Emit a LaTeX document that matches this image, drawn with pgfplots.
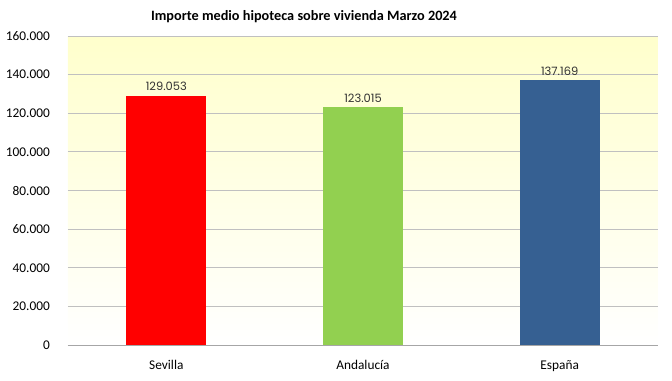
\documentclass[border=0pt]{standalone}
\usepackage{pgfplots}
\pgfplotsset{compat=1.18}
\usepackage{fontspec}
\setmainfont{Carlito}
\newfontfamily\valfont{Poppins}
\definecolor{gridc}{HTML}{C0C0C0}
\definecolor{axisc}{HTML}{A6A6A6}
\definecolor{bgtop}{HTML}{FFFFCC}
\definecolor{cred}{HTML}{FF0000}
\definecolor{cgreen}{HTML}{92D050}
\definecolor{cblue}{HTML}{366092}
\begin{document}
\begin{tikzpicture}
\path[use as bounding box] (-51pt,-26.25pt) rectangle (453pt,258.75pt);
\begin{axis}[
  at={(0,0)}, anchor=south west, scale only axis,
  width=442.5pt, height=231.75pt,
  xmin=-0.5, xmax=2.5, ymin=0, ymax=160000,
  ytick={0,20000,40000,60000,80000,100000,120000,140000,160000},
  yticklabels={0,20.000,40.000,60.000,80.000,100.000,120.000,140.000,160.000},
  scaled y ticks=false,
  xtick={0,1,2}, xticklabels={Sevilla,Andaluc\'ia,España},
  axis x line=bottom, axis y line=left,
  x axis line style={draw=axisc,-},
  y axis line style={draw=none},
  ytick style={draw=none},
  xtick style={draw=none},
  extra x ticks={-0.5,0.5,1.5,2.5},
  extra x tick labels={},
  extra x tick style={tick style={draw=axisc}, major tick length=4pt, tick align=outside, grid=none},
  ymajorgrids, grid style={draw=gridc, line width=0.75pt},
  ticklabel style={font=\fontsize{10}{12}\selectfont},
  yticklabel style={xshift=-8pt},
  xticklabel style={yshift=-4pt},
  axis background/.style={shade, top color=bgtop, bottom color=white},
  ybar, bar width=60pt,
  point meta=explicit symbolic,
  nodes near coords,
  every node near coord/.append style={font=\valfont\fontsize{8.6}{10}\selectfont, text=black!80},
  clip=false,
]
\addplot[fill=cred, draw=none, bar shift=0pt] coordinates {(0,129053) [129.053]};
\addplot[fill=cgreen, draw=none, bar shift=0pt] coordinates {(1,123015) [123.015]};
\addplot[fill=cblue, draw=none, bar shift=0pt] coordinates {(2,137169) [137.169]};
\end{axis}
\node[font=\bfseries\fontsize{10.7}{12}\selectfont] at (177pt,246pt) {Importe medio hipoteca sobre vivienda Marzo 2024};
\end{tikzpicture}
\end{document}
